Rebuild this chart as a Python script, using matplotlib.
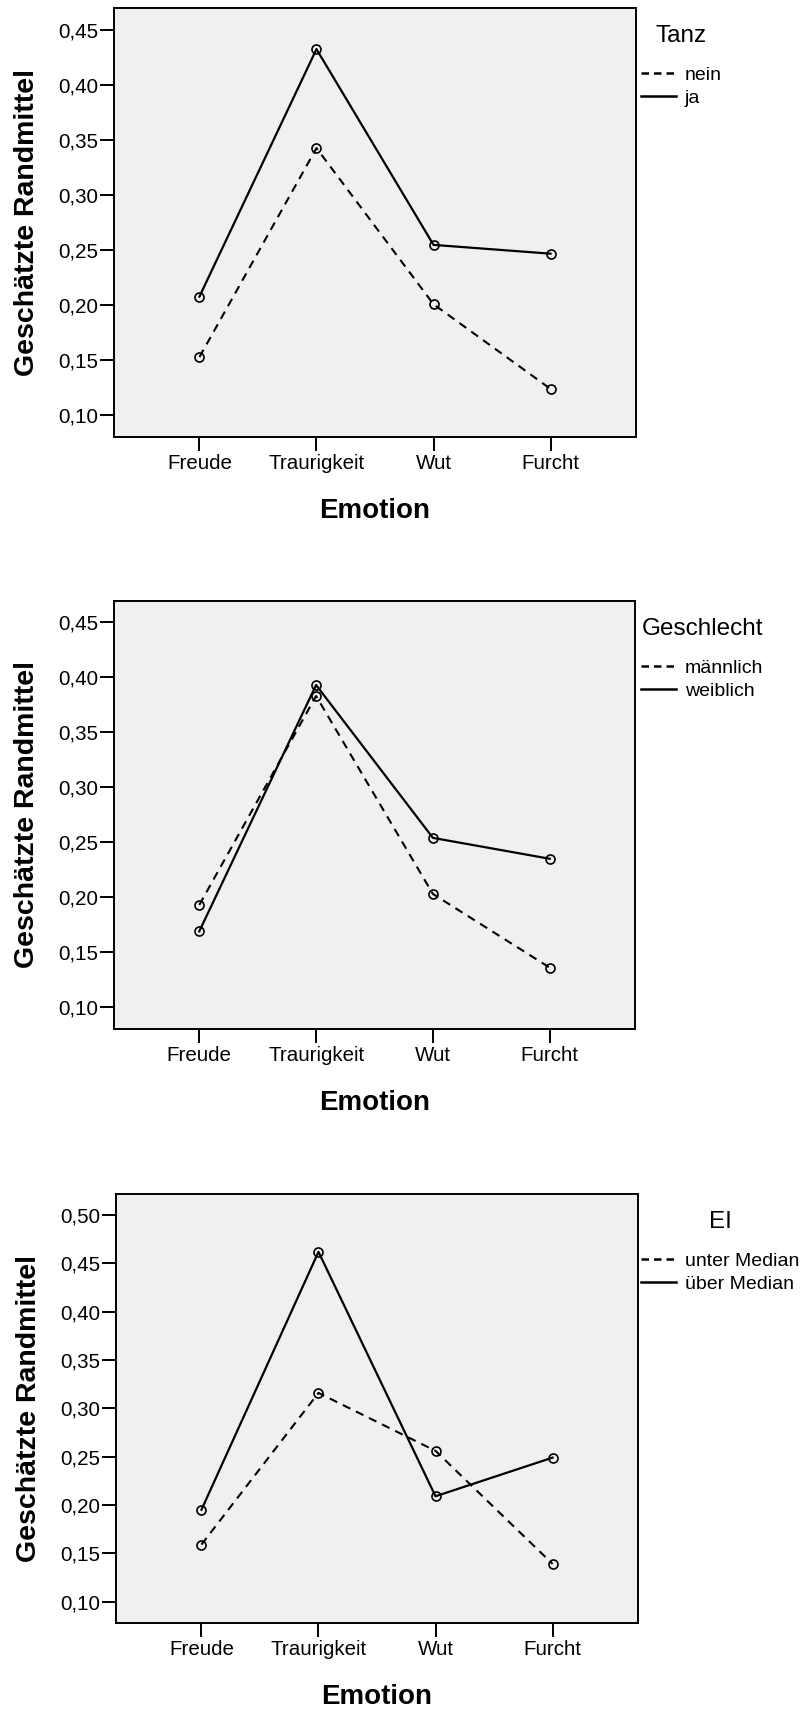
import matplotlib
matplotlib.use("Agg")
import matplotlib.pyplot as plt
from matplotlib.lines import Line2D

plt.rcParams['font.family'] = ['Liberation Sans', 'DejaVu Sans']

# Kategorien
emotionen = ["Freude", "Traurigkeit", "Wut", "Furcht"]

# Diagramm 1: Tanz
tanz_nein = [0.153, 0.343, 0.201, 0.124]
tanz_ja = [0.208, 0.433, 0.255, 0.247]

# Diagramm 2: Geschlecht
geschl_m = [0.193, 0.383, 0.203, 0.136]
geschl_w = [0.169, 0.393, 0.254, 0.235]

# Diagramm 3: EI
ei_unter = [0.159, 0.316, 0.256, 0.139]
ei_ueber = [0.195, 0.462, 0.209, 0.249]

panels = [
    ("Tanz", ["nein", "ja"], tanz_nein, tanz_ja,
     [0.10, 0.15, 0.20, 0.25, 0.30, 0.35, 0.40, 0.45], (0.0803, 0.4704)),
    ("Geschlecht", ["männlich", "weiblich"], geschl_m, geschl_w,
     [0.10, 0.15, 0.20, 0.25, 0.30, 0.35, 0.40, 0.45], (0.0802, 0.4694)),
    ("EI", ["unter Median", "über Median"], ei_unter, ei_ueber,
     [0.10, 0.15, 0.20, 0.25, 0.30, 0.35, 0.40, 0.45, 0.50], (0.0778, 0.5219)),
]

W, H = 811, 1712
fig = plt.figure(figsize=(W / 100, H / 100), dpi=100)

# Achsen in Pixeln: links, rechts, oben, unten
boxes = [(114, 636, 8, 437), (114, 635, 601, 1029), (116, 638, 1194, 1623)]
leg_top = [25, 618, 1211]

x = list(range(len(emotionen)))

for i, (titel, labels, s1, s2, yticks, ylim) in enumerate(panels):
    l, r, t, b = boxes[i]
    ax = fig.add_axes([l / W, 1 - b / H, (r - l) / W, (b - t) / H])
    ax.set_facecolor("#f0f0f0")

    ax.plot(x, s1, color="black", lw=1.5, dashes=(4, 3), marker="o",
            markersize=6.5, markerfacecolor="none", markeredgewidth=1.2)
    ax.plot(x, s2, color="black", lw=1.6, marker="o",
            markersize=6.5, markerfacecolor="none", markeredgewidth=1.2)

    ax.set_xlim(-0.73, 3.73)
    ax.set_ylim(*ylim)
    ax.set_xticks(x)
    ax.set_xticklabels(emotionen)
    ax.set_yticks(yticks)
    ax.set_yticklabels([("%.2f" % v).replace(".", ",") for v in yticks])

    for sp in ax.spines.values():
        sp.set_linewidth(1.4)
    ax.tick_params(axis="both", direction="out", length=10, width=1.4,
                   labelsize=14.8, pad=2)
    ax.tick_params(axis="y", pad=1)

    ax.set_xlabel("Emotion", fontsize=20, fontweight="bold")
    ax.set_ylabel("Geschätzte Randmittel", fontsize=20.5, fontweight="bold")
    ax.xaxis.set_label_coords(0.5, -0.142)
    ax.yaxis.set_label_coords(-0.142, 0.5)

    # Legende ohne Marker
    handles = [Line2D([], [], color="black", lw=1.8, dashes=(3, 2)),
               Line2D([], [], color="black", lw=1.8)]
    leg = ax.legend(handles, labels, loc="upper left",
                    bbox_to_anchor=(641 / W, 1 - leg_top[i] / H),
                    bbox_transform=fig.transFigure,
                    frameon=False, title=titel, fontsize=14,
                    title_fontsize=17.5, handlelength=1.8, handletextpad=0.45,
                    labelspacing=0.25, borderpad=0, borderaxespad=0)
    leg._legend_box.sep = 14

fig.savefig("out.png", dpi=100)
